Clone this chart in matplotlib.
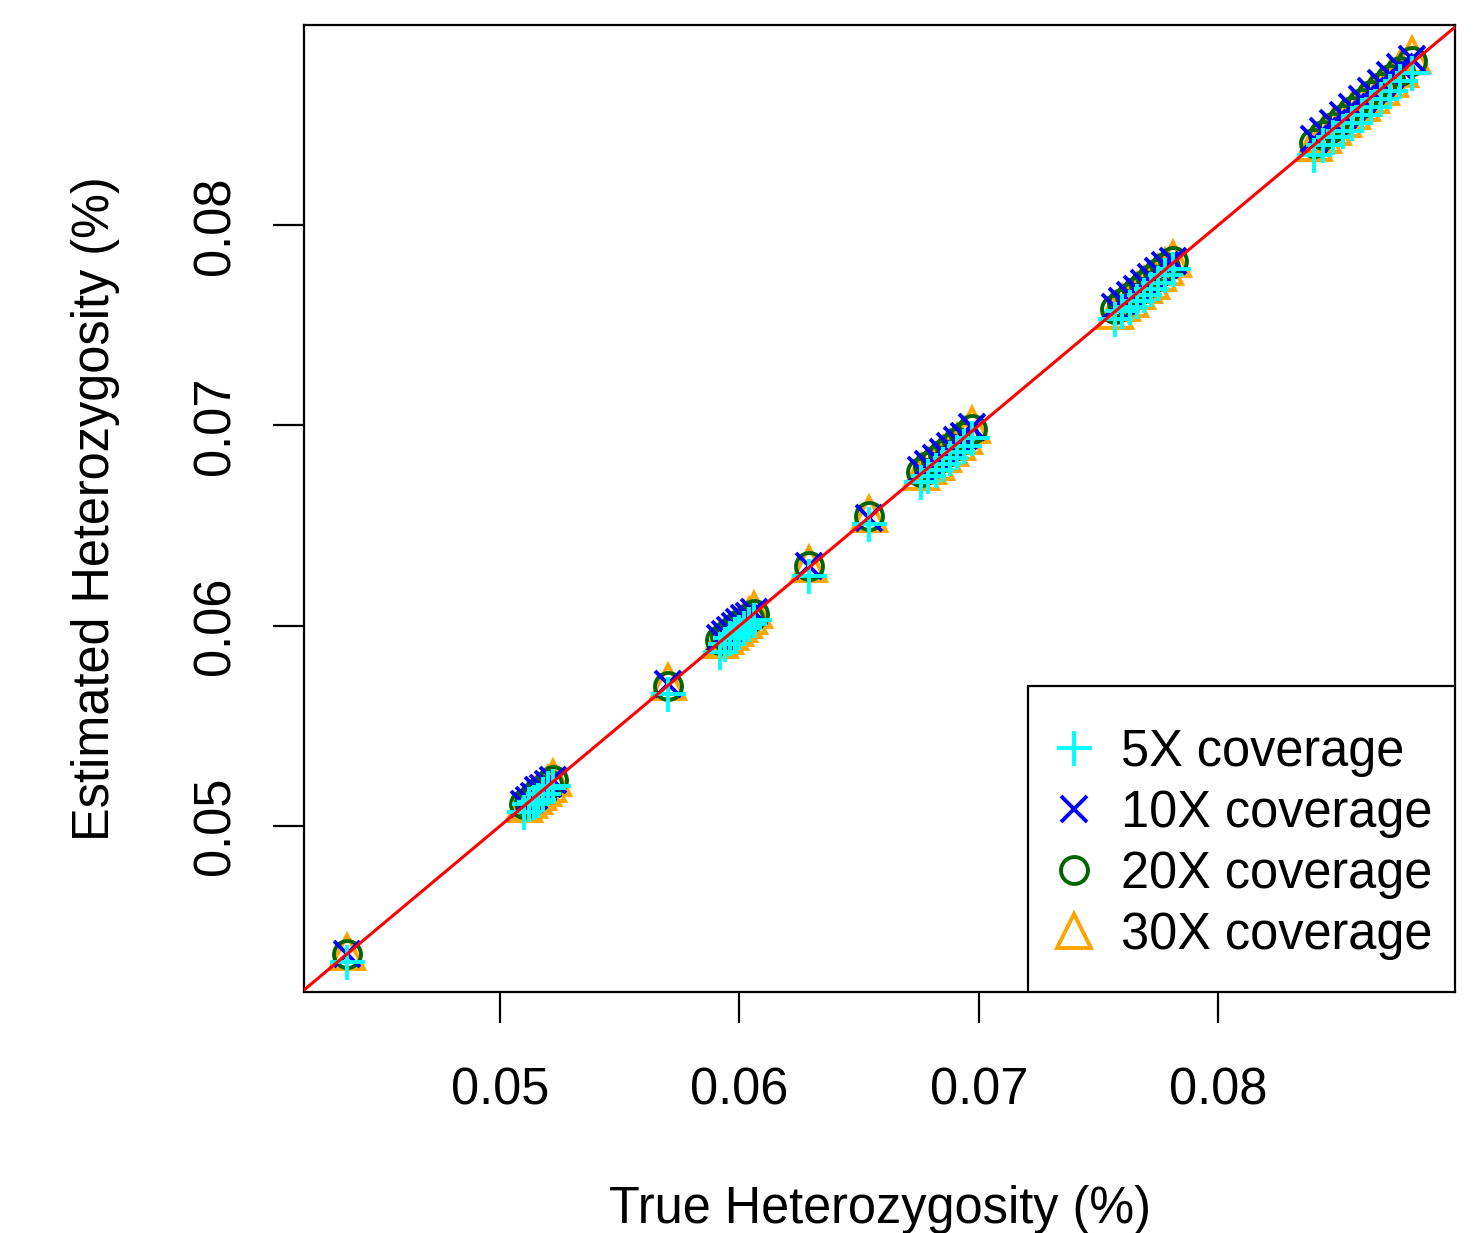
import matplotlib
matplotlib.use("Agg")
import matplotlib.pyplot as plt
from matplotlib.patches import Rectangle

plt.rcParams['font.family'] = ['Liberation Sans', 'DejaVu Sans']

# True heterozygosity of each simulated sample
true_het = [0.0436,
            0.0510, 0.0512, 0.0514, 0.0516, 0.0518, 0.0520, 0.0522,
            0.0570,
            0.0592, 0.0594, 0.0596, 0.0598, 0.0600, 0.0602, 0.0604, 0.0606,
            0.0629,
            0.0654,
            0.0676, 0.0679, 0.0682, 0.0685, 0.0688, 0.0691, 0.0694, 0.0697,
            0.0757, 0.0760, 0.0763, 0.0766, 0.0769, 0.0772, 0.0775, 0.0778, 0.0781,
            0.0840, 0.0844, 0.0848, 0.0852, 0.0856, 0.0860, 0.0864, 0.0868, 0.0872, 0.0876, 0.0881]

# Estimated heterozygosity at each coverage
est_5x = [0.0432,
          0.0507, 0.0511, 0.0512, 0.0513, 0.0516, 0.0519, 0.0520,
          0.0566,
          0.0587, 0.0591, 0.0594, 0.0596, 0.0597, 0.0599, 0.0601, 0.0603,
          0.0625,
          0.0651,
          0.0672, 0.0675, 0.0678, 0.0681, 0.0684, 0.0687, 0.0690, 0.0694,
          0.0753, 0.0757, 0.0759, 0.0762, 0.0765, 0.0768, 0.0771, 0.0775, 0.0778,
          0.0835, 0.0840, 0.0844, 0.0847, 0.0851, 0.0855, 0.0859, 0.0863, 0.0867, 0.0872, 0.0876]
est_10x = [0.0436,
           0.0511, 0.0513, 0.0515, 0.0518, 0.0519, 0.0521, 0.0523,
           0.0571,
           0.0594, 0.0596, 0.0598, 0.0600, 0.0602, 0.0604, 0.0605, 0.0607,
           0.0630,
           0.0654,
           0.0678, 0.0681, 0.0684, 0.0687, 0.0690, 0.0693, 0.0695, 0.0699,
           0.0759, 0.0762, 0.0765, 0.0768, 0.0771, 0.0774, 0.0777, 0.0780, 0.0782,
           0.0843, 0.0847, 0.0851, 0.0855, 0.0859, 0.0863, 0.0867, 0.0871, 0.0875, 0.0879, 0.0883]
est_20x = [0.0436,
           0.0511, 0.0512, 0.0515, 0.0517, 0.0518, 0.0521, 0.0523,
           0.0570,
           0.0593, 0.0595, 0.0597, 0.0599, 0.0601, 0.0602, 0.0604, 0.0606,
           0.0630,
           0.0655,
           0.0677, 0.0680, 0.0683, 0.0686, 0.0689, 0.0692, 0.0695, 0.0698,
           0.0758, 0.0761, 0.0764, 0.0767, 0.0770, 0.0773, 0.0776, 0.0779, 0.0782,
           0.0841, 0.0845, 0.0849, 0.0853, 0.0857, 0.0861, 0.0865, 0.0869, 0.0873, 0.0877, 0.0882]
est_30x = [0.0437,
           0.0511, 0.0513, 0.0515, 0.0517, 0.0519, 0.0521, 0.0524,
           0.0572,
           0.0593, 0.0595, 0.0597, 0.0599, 0.0601, 0.0603, 0.0605, 0.0608,
           0.0631,
           0.0656,
           0.0677, 0.0680, 0.0682, 0.0686, 0.0689, 0.0692, 0.0695, 0.0700,
           0.0757, 0.0761, 0.0763, 0.0767, 0.0770, 0.0772, 0.0776, 0.0779, 0.0783,
           0.0841, 0.0845, 0.0849, 0.0853, 0.0857, 0.0861, 0.0865, 0.0869, 0.0873, 0.0878, 0.0885]

labels = ['5X coverage', '10X coverage', '20X coverage', '30X coverage']
ticks = [0.05, 0.06, 0.07, 0.08]
tick_labels = ['0.05', '0.06', '0.07', '0.08']

fs = 18.2

fig = plt.figure(figsize=(7.38, 6.165), dpi=200)
ax = fig.add_axes([0.206, 0.1955, 0.7798, 0.7842])

# style for each series (marker, colour, size)
styles = [('+', '#00FFFF', 12.6), ('x', '#0000FF', 9.7), ('o', '#006400', 9.7), ('^', '#FFA500', 12)]
series = [est_5x, est_10x, est_20x, est_30x]

handles = [None] * 4
for i in [3, 2, 1, 0]:  # 30X drawn first, 5X on top
    m, c, s = styles[i]
    h, = ax.plot(true_het, series[i], linestyle='none', marker=m, color=c,
                 markersize=s, markerfacecolor='none', markeredgewidth=1.4,
                 label=labels[i])
    handles[i] = h

ax.axline((0.05, 0.05), slope=1, color='#FF0000', linewidth=1.1, zorder=5)

ax.set_xlim(0.04181, 0.0899)
ax.set_ylim(0.04171, 0.0900)
ax.set_xticks(ticks)
ax.set_xticklabels(tick_labels)
ax.set_yticks(ticks)
ax.set_yticklabels(tick_labels, rotation=90, va='center')
ax.tick_params(axis='both', labelsize=fs, length=11, width=0.8, direction='out')
ax.tick_params(axis='x', pad=16)
ax.tick_params(axis='y', pad=12)
for sp in ax.spines.values():
    sp.set_linewidth(0.8)

ax.set_xlabel('True Heterozygosity (%)', fontsize=fs, va='center')
ax.xaxis.set_label_coords(0.5, -0.2254)
ax.set_ylabel('Estimated Heterozygosity (%)', fontsize=fs, va='center')
ax.yaxis.set_label_coords(-0.1816, 0.5)

# legend box in the lower right corner, R style
box = Rectangle((0.629, 0.0), 0.371, 0.3164, transform=ax.transAxes,
                facecolor='white', edgecolor='black', linewidth=0.8, zorder=9)
ax.add_patch(box)
leg = ax.legend(handles=handles, loc='center', bbox_to_anchor=(0.8149, 0.1531),
                fontsize=fs, frameon=False, borderpad=0, borderaxespad=0,
                handlelength=0.9, handletextpad=0.485, labelspacing=0.24)
leg.set_zorder(10)

fig.savefig('out.png', dpi=200)
